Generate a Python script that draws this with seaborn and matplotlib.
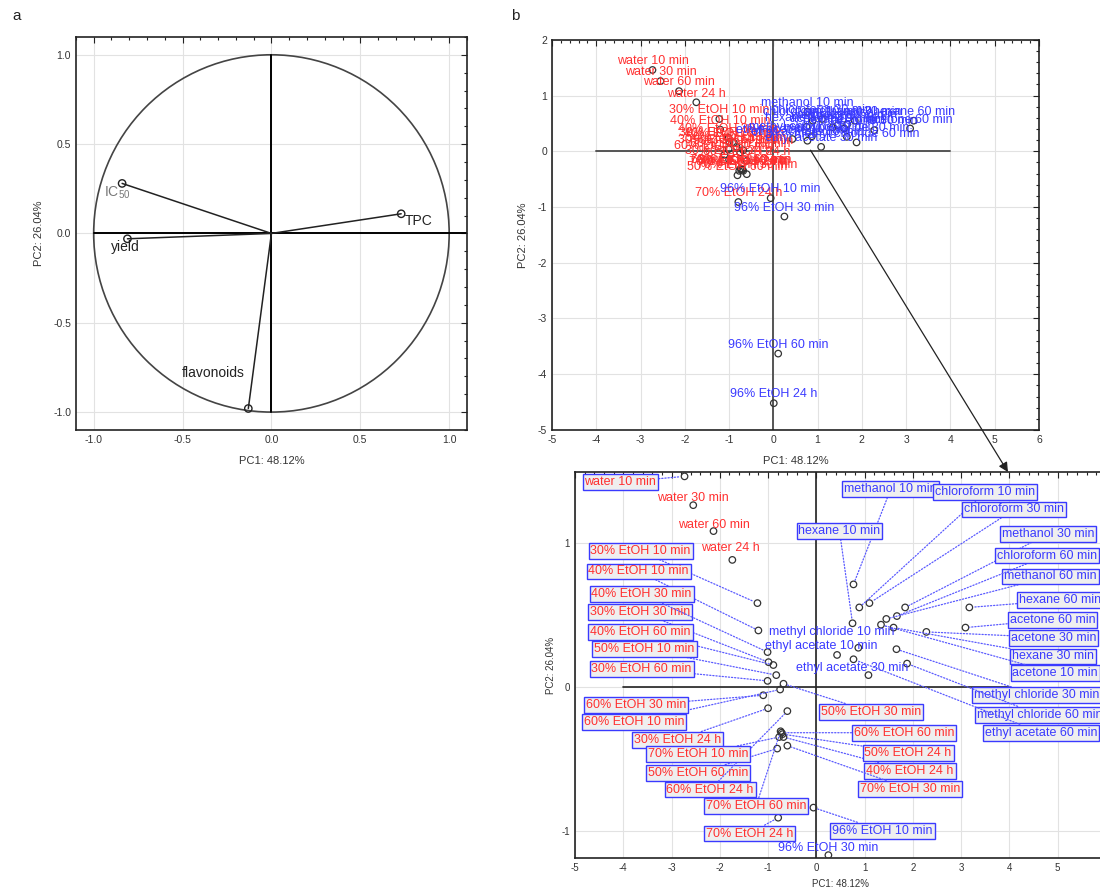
import matplotlib.pyplot as plt
import numpy as np
import pandas as pd
import seaborn as sns
from matplotlib.patches import Circle
from matplotlib.ticker import MultipleLocator

RED = '#ff3030'
BLUE = '#3a3aff'
GREY = '#333333'

### panel a - variable loadings
variables = ['IC$_{\\mathrm{50}}$', 'yield', 'TPC', 'flavonoids']
load_pc1 = [-0.84, -0.81, 0.73, -0.13]
load_pc2 = [0.28, -0.03, 0.11, -0.98]

### panel b - sample scores
red_samples = ['water 10 min', 'water 30 min', 'water 60 min', 'water 24 h',
               '30% EtOH 10 min', '30% EtOH 30 min', '30% EtOH 60 min', '30% EtOH 24 h',
               '40% EtOH 10 min', '40% EtOH 30 min', '40% EtOH 60 min', '40% EtOH 24 h',
               '50% EtOH 10 min', '50% EtOH 30 min', '50% EtOH 60 min', '50% EtOH 24 h',
               '60% EtOH 10 min', '60% EtOH 30 min', '60% EtOH 60 min', '60% EtOH 24 h',
               '70% EtOH 10 min', '70% EtOH 30 min', '70% EtOH 60 min', '70% EtOH 24 h']
red_pc1 = [-2.73, -2.55, -2.13, -1.74,
           -1.22, -0.99, -1.01, -1.00,
           -1.20, -1.01, -0.89, -0.68,
           -0.83, -0.68, -0.81, -0.70,
           -0.75, -1.10, -0.72, -0.60,
           -0.77, -0.60, -0.74, -0.79]
red_pc2 = [1.46, 1.26, 1.08, 0.88,
           0.58, 0.17, 0.04, -0.15,
           0.39, 0.24, 0.15, -0.35,
           0.08, 0.02, -0.43, -0.33,
           -0.02, -0.06, -0.32, -0.17,
           -0.35, -0.41, -0.31, -0.91]

blue_samples = ['96% EtOH 10 min', '96% EtOH 30 min', '96% EtOH 60 min', '96% EtOH 24 h',
                'methanol 10 min', 'methanol 30 min', 'methanol 60 min',
                'chloroform 10 min', 'chloroform 30 min', 'chloroform 60 min',
                'hexane 10 min', 'hexane 30 min', 'hexane 60 min',
                'acetone 10 min', 'acetone 30 min', 'acetone 60 min',
                'methyl chloride 10 min', 'methyl chloride 30 min', 'methyl chloride 60 min',
                'ethyl acetate 10 min', 'ethyl acetate 30 min', 'ethyl acetate 60 min']
blue_pc1 = [-0.06, 0.25, 0.11, 0.01,
            0.77, 1.84, 1.45,
            0.89, 1.10, 1.67,
            0.75, 1.60, 3.17,
            1.34, 2.28, 3.09,
            0.87, 1.66, 1.88,
            0.43, 1.08, 0.77]
blue_pc2 = [-0.84, -1.17, -3.63, -4.52,
            0.71, 0.55, 0.47,
            0.55, 0.58, 0.49,
            0.44, 0.41, 0.55,
            0.43, 0.38, 0.41,
            0.27, 0.26, 0.16,
            0.22, 0.08, 0.19]

scores = pd.DataFrame({
    'sample': red_samples + blue_samples,
    'PC1': red_pc1 + blue_pc1,
    'PC2': red_pc2 + blue_pc2,
    'colour': [RED] * len(red_samples) + [BLUE] * len(blue_samples),
})

# label placement in the zoomed panel: (x, y, boxed)
zoom_labels = {
    'water 10 min': (-4.06, 1.42, True), 'water 30 min': (-2.55, 1.31, False),
    'water 60 min': (-2.13, 1.125, False), 'water 24 h': (-1.78, 0.965, False),
    '30% EtOH 10 min': (-3.64, 0.94, True), '40% EtOH 10 min': (-3.68, 0.80, True),
    '40% EtOH 30 min': (-3.62, 0.645, True), '30% EtOH 30 min': (-3.66, 0.52, True),
    '40% EtOH 60 min': (-3.64, 0.38, True), '50% EtOH 10 min': (-3.56, 0.26, True),
    '30% EtOH 60 min': (-3.62, 0.125, True), '60% EtOH 30 min': (-3.73, -0.13, True),
    '60% EtOH 10 min': (-3.77, -0.245, True), '30% EtOH 24 h': (-2.88, -0.37, True),
    '70% EtOH 10 min': (-2.45, -0.47, True), '50% EtOH 60 min': (-2.45, -0.60, True),
    '60% EtOH 24 h': (-2.20, -0.715, True), '70% EtOH 60 min': (-1.25, -0.83, True),
    '70% EtOH 24 h': (-1.39, -1.02, True), '50% EtOH 30 min': (1.14, -0.175, True),
    '60% EtOH 60 min': (1.82, -0.32, True), '50% EtOH 24 h': (1.90, -0.46, True),
    '40% EtOH 24 h': (1.94, -0.585, True), '70% EtOH 30 min': (1.94, -0.71, True),
    '96% EtOH 10 min': (1.37, -1.0, True), '96% EtOH 30 min': (0.25, -1.12, False),
    'methanol 10 min': (1.54, 1.37, True), 'chloroform 10 min': (3.50, 1.35, True),
    'chloroform 30 min': (4.10, 1.23, True), 'hexane 10 min': (0.48, 1.08, True),
    'methanol 30 min': (4.80, 1.06, True), 'chloroform 60 min': (4.78, 0.91, True),
    'methanol 60 min': (4.85, 0.765, True), 'hexane 60 min': (5.05, 0.60, True),
    'acetone 60 min': (4.89, 0.465, True), 'acetone 30 min': (4.91, 0.34, True),
    'hexane 30 min': (4.91, 0.21, True), 'acetone 10 min': (4.95, 0.095, True),
    'methyl chloride 30 min': (4.57, -0.06, True), 'methyl chloride 60 min': (4.62, -0.195, True),
    'ethyl acetate 60 min': (4.66, -0.32, True), 'methyl chloride 10 min': (0.33, 0.38, False),
    'ethyl acetate 10 min': (0.10, 0.285, False), 'ethyl acetate 30 min': (0.75, 0.13, False),
}

sns.set_theme(style='white')
plt.rcParams['font.family'] = ['Liberation Sans', 'DejaVu Sans']
plt.rcParams['mathtext.fontset'] = 'custom'
plt.rcParams['mathtext.rm'] = 'Liberation Sans'
plt.rcParams['mathtext.it'] = 'Liberation Sans'
plt.rcParams['axes.unicode_minus'] = False


def style_axes(ax, minor_x, minor_y, size):
    for sp in ax.spines.values():
        sp.set_color('#222222')
        sp.set_linewidth(1.2)
    ax.xaxis.set_minor_locator(MultipleLocator(minor_x))
    ax.yaxis.set_minor_locator(MultipleLocator(minor_y))
    ax.tick_params(which='both', direction='in', top=True, right=True,
                   colors='#222222', labelcolor=GREY, labelsize=size, width=0.8)
    ax.tick_params(which='major', length=4)
    ax.tick_params(which='minor', length=2)
    ax.grid(True, which='major', color='#e2e2e2', linewidth=0.8)
    ax.set_axisbelow(True)


fig = plt.figure(figsize=(11, 8.92), dpi=100)
ax_a = fig.add_axes([0.069, 0.518, 0.3555, 0.4406])
ax_b = fig.add_axes([0.5018, 0.518, 0.4427, 0.4373])
ax_c = fig.add_axes([0.5227, 0.0381, 0.4827, 0.4327])

### a: correlation circle
ax_a.add_patch(Circle((0, 0), 1.0, fill=False, ec='#444444', lw=1.2, zorder=2))
ax_a.plot([-1.0, 1.1], [0, 0], color='black', lw=1.4, zorder=2)
ax_a.plot([0, 0], [-1.0, 1.0], color='black', lw=1.4, zorder=2)
for x, y in zip(load_pc1, load_pc2):
    ax_a.plot([0, x], [0, y], color='#222222', lw=1.1, zorder=3)
sns.scatterplot(x=load_pc1, y=load_pc2, ax=ax_a, color='none', edgecolor='#222222',
                s=28, linewidth=1.0, zorder=4)
label_pos_a = [(-0.87, 0.23), (-0.82, -0.075), (0.83, 0.07), (-0.33, -0.78)]
label_col_a = ['#777777', '#222222', '#222222', '#222222']
for name, (lx, ly), c in zip(variables, label_pos_a, label_col_a):
    ax_a.text(lx, ly, name, ha='center', va='center', fontsize=10, color=c)
ax_a.set_xlim(-1.1, 1.1)
ax_a.set_ylim(-1.1, 1.1)
ax_a.set_xticks([-1.0, -0.5, 0.0, 0.5, 1.0])
ax_a.set_yticks([-1.0, -0.5, 0.0, 0.5, 1.0])
style_axes(ax_a, 0.1, 0.1, 7.5)
ax_a.set_xlabel('PC1: 48.12%', fontsize=8, color=GREY)
ax_a.set_ylabel('PC2: 26.04%', fontsize=8, color=GREY)
ax_a.xaxis.set_label_coords(0.5, -0.066)
ax_a.yaxis.set_label_coords(-0.082, 0.5)

### b: full score plot
ax_b.plot([-4, 4], [0, 0], color='#555555', lw=1.4, zorder=2)
ax_b.axvline(0, color='#555555', lw=1.4, zorder=2)
sns.scatterplot(data=scores, x='PC1', y='PC2', ax=ax_b, color='none',
                edgecolor='#333333', s=22, linewidth=0.9, zorder=4)
for _, r in scores.iterrows():
    ax_b.annotate(r['sample'], (r['PC1'], r['PC2']), xytext=(0, 2),
                  textcoords='offset points', ha='center', va='bottom',
                  fontsize=9, color=r['colour'], zorder=5)
ax_b.set_xlim(-5, 6)
ax_b.set_ylim(-5, 2)
ax_b.set_xticks(range(-5, 7))
ax_b.set_yticks(range(-5, 3))
style_axes(ax_b, 0.2, 0.2, 7.5)
ax_b.set_xlabel('PC1: 48.12%', fontsize=8, color=GREY)
ax_b.set_ylabel('PC2: 26.04%', fontsize=8, color=GREY)
ax_b.xaxis.set_label_coords(0.5, -0.067)
ax_b.yaxis.set_label_coords(-0.049, 0.5)

### b (zoom): labelled score plot
ax_c.plot([-4, 4], [0, 0], color='#222222', lw=1.2, zorder=2)
ax_c.axvline(0, color='#222222', lw=1.2, zorder=2)
sns.scatterplot(data=scores, x='PC1', y='PC2', ax=ax_c, color='none',
                edgecolor='#333333', s=22, linewidth=0.9, zorder=4)
for _, r in scores.iterrows():
    if r['sample'] not in zoom_labels:
        continue
    lx, ly, boxed = zoom_labels[r['sample']]
    kw = {}
    if boxed:
        kw['bbox'] = dict(boxstyle='square,pad=0.15', fc='#efefef', ec=BLUE, lw=1.0)
        kw['arrowprops'] = dict(arrowstyle='-', color='#5a5aff', lw=0.9,
                                linestyle=(0, (1, 1.5)), shrinkA=0, shrinkB=3)
    ax_c.annotate(r['sample'], (r['PC1'], r['PC2']), xytext=(lx, ly),
                  ha='center', va='center', fontsize=9, color=r['colour'],
                  zorder=5, annotation_clip=False, **kw)
ax_c.set_xlim(-5, 6)
ax_c.set_ylim(-1.19, 1.49)
ax_c.set_xticks(range(-5, 6))
ax_c.set_yticks([-1, 0, 1])
style_axes(ax_c, 0.2, 0.25, 7)
ax_c.set_xlabel('PC1: 48.12%', fontsize=7, color=GREY)
ax_c.set_ylabel('PC2: 26.04%', fontsize=7, color=GREY)
ax_c.xaxis.set_label_coords(0.5, -0.055)
ax_c.yaxis.set_label_coords(-0.035, 0.5)

# arrow linking the two views
ax_c.annotate('', xy=(3.97, 1.49), xycoords='data', xytext=(0.84, 0.02),
              textcoords=ax_b.transData, annotation_clip=False,
              arrowprops=dict(arrowstyle='-|>', color='#222222', lw=0.9,
                              mutation_scale=14, shrinkA=0, shrinkB=0))

fig.text(0.011, 0.978, 'a', fontsize=11, color='#222222')
fig.text(0.465, 0.978, 'b', fontsize=11, color='#222222')

fig.savefig('out.png', dpi=100)
